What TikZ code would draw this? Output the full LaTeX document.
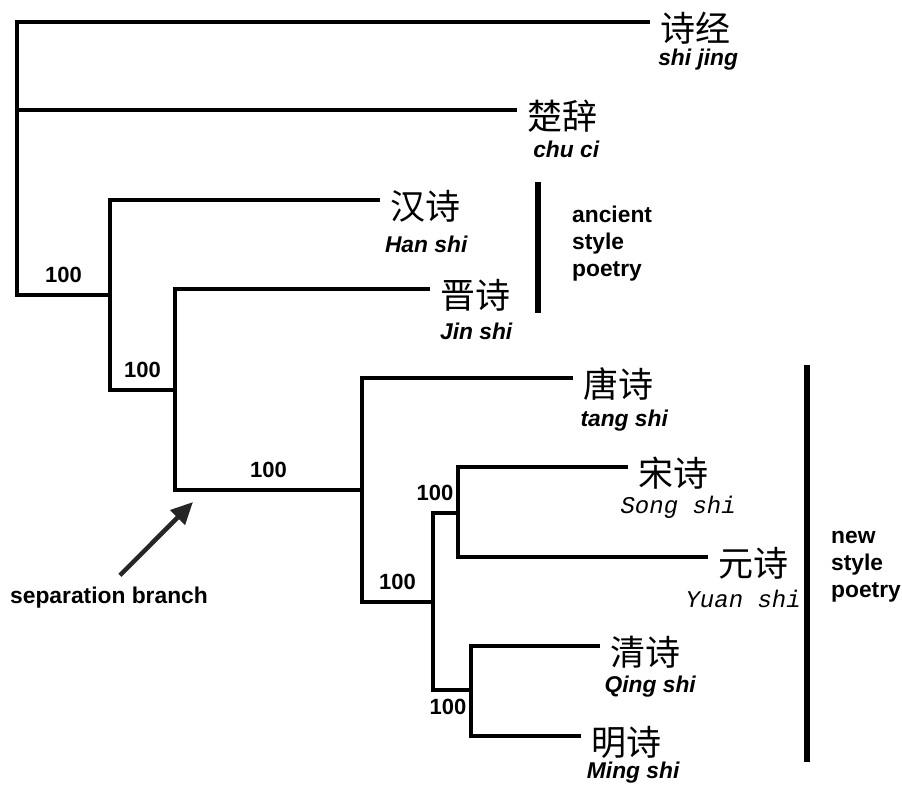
\documentclass[tikz,border=0pt]{standalone}
\usepackage{fontspec}
\usepackage{tikz}
\usetikzlibrary{positioning,arrows.meta}
\newfontfamily\heifont{Noto Sans CJK SC}
\newfontfamily\helvfont{Liberation Sans}
\newfontfamily\courfont{Liberation Mono}

\begin{document}
\begin{tikzpicture}[x=1pt,y=-1pt,
  branch/.style={line width=3.5pt,line join=miter},
  bar/.style={line width=6.5pt},
  hanzi/.style={anchor=west,inner xsep=10pt,inner ysep=0pt,text height=38.5pt,text depth=0pt,font=\heifont\fontsize{35}{35}\selectfont},
  pinyin/.style={anchor=base,inner sep=0pt,font=\helvfont\bfseries\itshape\fontsize{22.8}{26}\selectfont},
  pinyinmono/.style={anchor=base,inner sep=0pt,font=\courfont\itshape\fontsize{24}{28}\selectfont},
  support/.style={inner sep=0pt,font=\helvfont\bfseries\fontsize{22}{26}\selectfont},
  note/.style={inner sep=0pt,align=left,font=\helvfont\bfseries\fontsize{22.8}{27}\selectfont},
  pointer/.style={draw=black!85,line width=4.5pt,-{Triangle[length=22pt,width=20pt]}}]
\useasboundingbox (0,0) rectangle (902,787);

\coordinate (n0) at (17,295);
\coordinate (nA) at (110,295);
\coordinate (nB) at (175,390);
\coordinate (nC) at (362,490);
\coordinate (nD) at (433,602);
\coordinate (nE) at (458,513);
\coordinate (nF) at (471,690);

\node[hanzi] (shijing) at (650,22) {诗经};
\node[hanzi] (chuci) at (517,110) {楚辞};
\node[hanzi] (han) at (380,200) {汉诗};
\node[hanzi] (jin) at (430,289) {晋诗};
\node[hanzi] (tang) at (573,378) {唐诗};
\node[hanzi] (song) at (628,467) {宋诗};
\node[hanzi] (yuan) at (708,557) {元诗};
\node[hanzi] (qing) at (600,646) {清诗};
\node[hanzi] (ming) at (581,736) {明诗};

\node[pinyin] (shijingpy) at ([xshift=3pt,yshift=-24pt]shijing.base) {shi jing};
\node[pinyin] (chucipy) at ([xshift=4pt,yshift=-28pt]chuci.base) {chu ci};
\node[pinyin] (hanpy) at ([xshift=1pt,yshift=-33pt]han.base) {Han shi};
\node[pinyin] (jinpy) at ([xshift=1pt,yshift=-31pt]jin.base) {Jin shi};
\node[pinyin] (tangpy) at ([xshift=6pt,yshift=-29pt]tang.base) {tang shi};
\node[pinyinmono] (songpy) at ([xshift=5pt,yshift=-27pt]song.base) {Song shi};
\node[pinyinmono] (yuanpy) at ([xshift=-10pt,yshift=-31pt]yuan.base) {Yuan shi};
\node[pinyin] (qingpy) at ([xshift=5pt,yshift=-27pt]qing.base) {Qing shi};
\node[pinyin] (mingpy) at ([xshift=7pt,yshift=-23pt]ming.base) {Ming shi};

\draw[branch] (shijing.west) -| (n0) -- node[support,above=11pt] {100} (nA);
\draw[branch] (chuci.west) -- (chuci.west -| n0);
\draw[branch] (han.west) -| (nA) |- node[support,above=11pt,pos=0.75] {100} (nB);
\draw[branch] (jin.west) -| (nB) |- node[support,above=11pt,pos=0.75] {100} (nC);
\draw[branch] (tang.west) -| (nC) |- node[support,above=11pt,pos=0.75] {100} (nD);
\draw[branch] (nE) -| node[support,above=11pt,pos=0.5,xshift=2pt] {100} (nD) |- node[support,below=7pt,pos=0.75,xshift=-4pt] {100} (nF);
\draw[branch] (song.west) -| (nE) |- (yuan.west);
\draw[branch] (qing.west) -| (nF) |- (ming.west);

\coordinate (ancTop) at (538,182);
\coordinate (ancBot) at (538,313);
\draw[bar] (ancTop) -- coordinate (ancMid) (ancBot);
\node[note,right=34pt of ancMid,yshift=4pt] (ancient) {ancient\\style\\poetry};

\coordinate (newTop) at (807,365);
\coordinate (newBot) at (807,762);
\draw[bar] (newTop) -- coordinate (newMid) (newBot);
\node[note,right=24pt of newMid,yshift=-3pt] (newstyle) {new\\style\\poetry};

\node[note,anchor=base west] (sep) at (10,603) {separation branch};
\coordinate (sepTip) at (193,502);
\draw[pointer] ([xshift=11pt,yshift=11pt]sep.north) -- (sepTip);
\end{tikzpicture}
\end{document}
